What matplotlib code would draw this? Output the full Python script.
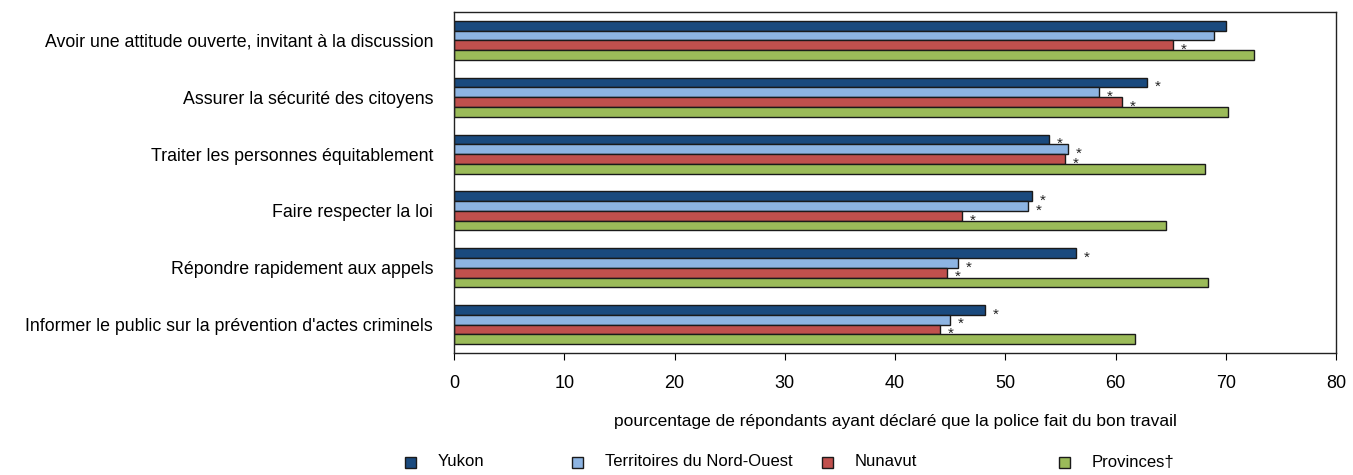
import numpy as np
import matplotlib
matplotlib.use("Agg")
import matplotlib.pyplot as plt
from matplotlib.patches import Rectangle

plt.rcParams["font.family"] = ["Liberation Sans Narrow", "Liberation Sans", "DejaVu Sans"]

categories = [
    "Avoir une attitude ouverte, invitant à la discussion",
    "Assurer la sécurité des citoyens",
    "Traiter les personnes équitablement",
    "Faire respecter la loi",
    "Répondre rapidement aux appels",
    "Informer le public sur la prévention d'actes criminels",
]
series_names = ["Yukon", "Territoires du Nord-Ouest", "Nunavut", "Provinces\u2020"]
yukon = [70.0, 62.9, 54.0, 52.4, 56.4, 48.2]
tno = [68.9, 58.5, 55.7, 52.1, 45.7, 45.0]
nunavut = [65.2, 60.6, 55.4, 46.1, 44.7, 44.1]
provinces = [72.6, 70.2, 68.1, 64.6, 68.4, 61.8]
# significance flags (* = significantly different from provinces)
sig_yukon = [0, 1, 1, 1, 1, 1]
sig_tno = [0, 1, 1, 1, 1, 1]
sig_nunavut = [1, 1, 1, 1, 1, 1]

colors = ["#1a4a7e", "#8db4e2", "#c0504d", "#9bbb59"]

W, H = 1353, 475
fig = plt.figure(figsize=(W / 100, H / 100), dpi=100)
ax = fig.add_axes([454 / W, 1 - 353 / H, (1336 - 454) / W, (353 - 12) / H])

n = len(categories)
y = np.arange(n)
h = 0.172
values = [yukon, tno, nunavut, provinces]
sigs = [sig_yukon, sig_tno, sig_nunavut, None]
for k, (vals, col) in enumerate(zip(values, colors)):
    pos = y + (k - 1.5) * h
    ax.barh(pos, vals, height=h, color=col, edgecolor="#1a1a1a", linewidth=1.0,
            label=series_names[k])
    if sigs[k] is not None:
        for p, v, s in zip(pos, vals, sigs[k]):
            if s:
                ax.text(v + 0.7, p + 0.08, "*", fontsize=11, ha="left", va="center",
                        color="#222222")

ax.set_ylim(n - 0.5, -0.5)
ax.set_xlim(0, 80)
ax.set_xticks(np.arange(0, 81, 10))
ax.tick_params(axis="x", direction="out", length=5, labelsize=13, pad=11)
ax.set_yticks(y)
ax.set_yticklabels(categories, fontsize=12.8)
ax.tick_params(axis="y", length=0, pad=15)
for sp in ax.spines.values():
    sp.set_linewidth(1.0)
    sp.set_color("#222222")

ax.set_xlabel("pourcentage de répondants ayant déclaré que la police fait du bon travail",
              fontsize=12.5, labelpad=16)

# legend drawn at fixed positions like the original
leg_x = [410, 577, 827, 1064]
leg_y = 462
sq = 11
for xs, col, name in zip(leg_x, colors, series_names):
    fig.add_artist(Rectangle(((xs - sq / 2) / W, 1 - (leg_y + sq / 2) / H), sq / W, sq / H,
                             transform=fig.transFigure, facecolor=col,
                             edgecolor="#1a1a1a", linewidth=1.0))
    fig.text((xs + 28) / W, 1 - leg_y / H, name, fontsize=12, ha="left", va="center")

fig.savefig("out.png", dpi=100)
